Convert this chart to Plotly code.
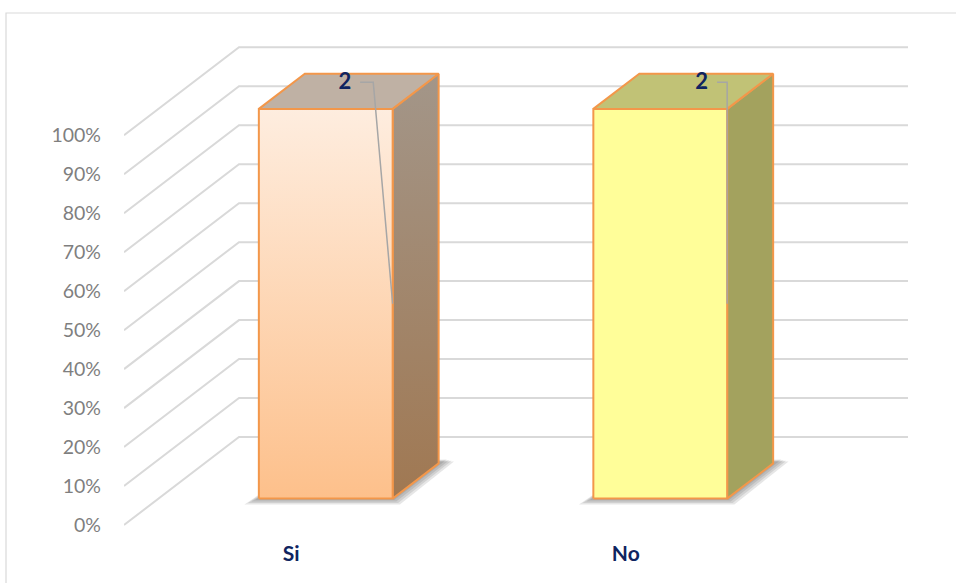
import plotly.graph_objects as go

# ---- data ----
categories = ["Si", "No"]
values = [2, 2]
pct_ticks = list(range(0, 101, 10))
tick_labels = [f"{t}%" for t in pct_ticks]

# ---- styling ----
front_colors = [[[0, "#FDC08B"], [1, "#FEEDDF"]], [[0, "#FFFE99"], [1, "#FFFE99"]]]
side_colors = [[[0, "#A07852"], [1, "#A39689"]], [[0, "#A3A25E"], [1, "#A3A25E"]]]
top_colors = ["#BFB1A4", "#C1C276"]
edge_color = "#F3974A"
grid_color = "#D9D9D9"
navy = "#0F2460"

# ---- oblique 3-D projection (axis units) ----
PX_X = 334.5          # pixels per category step
PX_Y = 3.897          # pixels per percent
DX = 115 / PX_X       # x shift for full wall depth
DY = 88 / PX_Y        # y shift for full wall depth
BAR_HALF = 0.2        # half bar width in category units
Z_FRONT, Z_BACK = 0.3, 0.7
WALL_L, WALL_R = -0.5, 1.5


def proj(x, p, z):
    return x + z * DX, p + z * DY


def poly(points):
    xs, ys = zip(*[proj(*pt) for pt in points])
    return list(xs) + [xs[0]], list(ys) + [ys[0]]


fig = go.Figure()

# walls: side-wall diagonals + back-wall horizontals
gx, gy = [], []
for t in pct_ticks:
    for pt in [(WALL_L, t, 0), (WALL_L, t, 1), (WALL_R, t, 1)]:
        x, y = proj(*pt)
        gx.append(x)
        gy.append(y)
    gx.append(None)
    gy.append(None)
fig.add_trace(go.Scatter(x=gx, y=gy, mode="lines",
                         line=dict(color=grid_color, width=2),
                         hoverinfo="skip", showlegend=False))

totals = [sum([v]) for v in values]
for i, (cat, v) in enumerate(zip(categories, values)):
    pct = v / totals[i] * 100
    xl, xr = i - BAR_HALF, i + BAR_HALF

    # soft floor shadow under the base
    for k in [12, 9, 6, 3]:
        kx, ky = k / PX_X, k / PX_Y
        sx, sy = poly([(xl - kx * 1.2, -ky * 0.5, Z_FRONT), (xr + kx * 0.6, -ky * 0.5, Z_FRONT),
                       (xr + kx * 0.8, -ky * 0.2, Z_BACK + 0.05), (xl, 0, Z_BACK)])
        fig.add_trace(go.Scatter(x=sx, y=sy, mode="lines", fill="toself",
                                 fillcolor="rgba(50,50,50,0.12)", line=dict(width=0),
                                 hoverinfo="skip", showlegend=False))

    # side face
    sx, sy = poly([(xr, 0, Z_FRONT), (xr, 0, Z_BACK), (xr, pct, Z_BACK), (xr, pct, Z_FRONT)])
    fig.add_trace(go.Scatter(x=sx, y=sy, mode="lines", fill="toself",
                             fillgradient=dict(type="vertical", colorscale=side_colors[i]),
                             line=dict(color=edge_color, width=2),
                             hoverinfo="skip", showlegend=False))
    # top face
    sx, sy = poly([(xl, pct, Z_FRONT), (xr, pct, Z_FRONT), (xr, pct, Z_BACK), (xl, pct, Z_BACK)])
    fig.add_trace(go.Scatter(x=sx, y=sy, mode="lines", fill="toself",
                             fillcolor=top_colors[i],
                             line=dict(color=edge_color, width=2),
                             hoverinfo="skip", showlegend=False))
    # front face
    sx, sy = poly([(xl, 0, Z_FRONT), (xr, 0, Z_FRONT), (xr, pct, Z_FRONT), (xl, pct, Z_FRONT)])
    fig.add_trace(go.Scatter(x=sx, y=sy, mode="lines", fill="toself",
                             fillgradient=dict(type="vertical", colorscale=front_colors[i]),
                             line=dict(color=edge_color, width=2),
                             hoverinfo="text", text=f"{cat}: {v}", showlegend=False))

# data labels with leader lines
label_shift = [0.160, 0.227]
label_rise = 13.3
elbow_back = [0.058, 0.0]
for i, v in enumerate(values):
    pct = v / totals[i] * 100
    ax, ay = proj(i + BAR_HALF, pct / 2, Z_FRONT)
    lx, ly = i + label_shift[i], pct + label_rise
    fig.add_trace(go.Scatter(x=[lx + 0.046, ax - elbow_back[i], ax],
                             y=[ly + 0.3, ly + 0.3, ay], mode="lines",
                             line=dict(color="#A6A6A6", width=1.5),
                             hoverinfo="skip", showlegend=False))
    fig.add_trace(go.Scatter(x=[lx], y=[ly], mode="text", text=[f"<b>{v}</b>"],
                             textfont=dict(family="Lato", size=22, color=navy),
                             textposition="middle center", cliponaxis=False,
                             hoverinfo="skip", showlegend=False))

W, H = 956, 583
ML, MB = 124, 48
fig.update_layout(
    width=W, height=H,
    margin=dict(l=ML, r=0, t=0, b=MB, autoexpand=False),
    paper_bgcolor="white", plot_bgcolor="white",
    xaxis=dict(range=[WALL_L, WALL_L + (W - ML) / PX_X],
               tickvals=list(range(len(categories))),
               ticktext=[f"<b>{c}</b>" for c in categories],
               tickfont=dict(family="Lato", size=21, color=navy),
               showgrid=False, zeroline=False, showline=False, ticks="",
               ticklabelstandoff=4, automargin=False, fixedrange=True),
    yaxis=dict(range=[(525 - (H - MB)) / PX_Y, 525 / PX_Y],
               tickvals=pct_ticks, ticktext=tick_labels,
               tickfont=dict(family="Lato", size=19.5, color="#7F7F7F"),
               showgrid=False, zeroline=False, showline=False, ticks="",
               ticklabelstandoff=22, automargin=False, fixedrange=True),
    shapes=[dict(type="rect", xref="paper", yref="paper", layer="below",
                 x0=(6 - ML) / (W - ML), x1=(W + 20 - ML) / (W - ML),
                 y0=-0.2, y1=(H - MB - 13) / (H - MB),
                 line=dict(color="#D9D9D9", width=1.2), fillcolor="rgba(0,0,0,0)")],
    showlegend=False,
)

fig.write_html("out.html")
